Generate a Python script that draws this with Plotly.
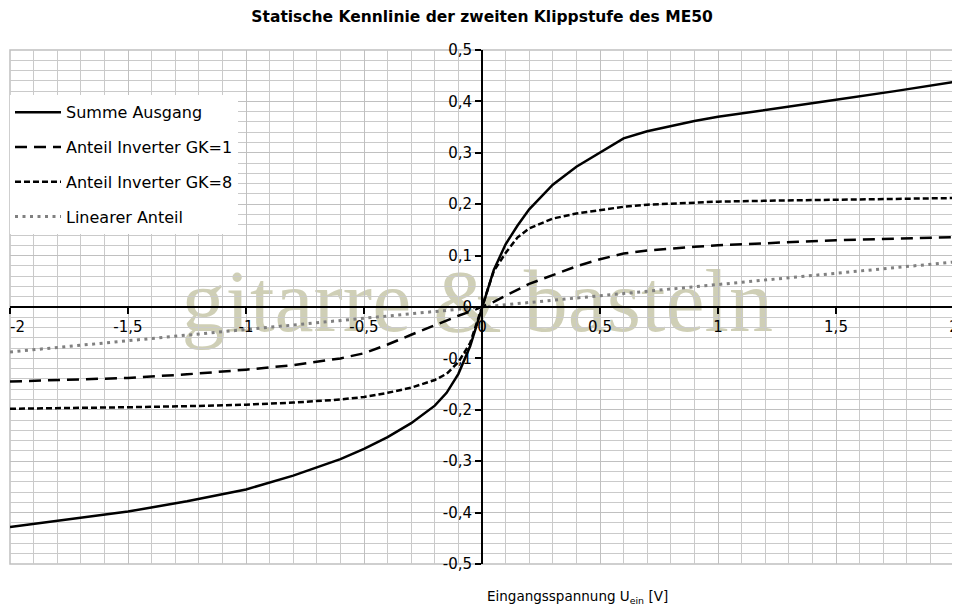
import plotly.graph_objects as go

# ---- data ----
x_vals = [-2, -1.75, -1.5, -1.25, -1, -0.8, -0.6, -0.5, -0.4, -0.3, -0.2, -0.15, -0.1, -0.05,
          0, 0.05, 0.1, 0.15, 0.2, 0.3, 0.4, 0.5, 0.6, 0.7, 0.8, 0.9, 1, 1.25, 1.5, 1.75, 2]

summe = [-0.428, -0.413, -0.398, -0.378, -0.355, -0.328, -0.296, -0.276, -0.253, -0.226, -0.192, -0.167, -0.130, -0.076,
         0.0, 0.072, 0.122, 0.158, 0.190, 0.238, 0.273, 0.300, 0.328, 0.342, 0.352, 0.362, 0.370, 0.386, 0.403, 0.420, 0.438]

gk1 = [-0.145, -0.142, -0.138, -0.131, -0.122, -0.113, -0.100, -0.090, -0.073, -0.054, -0.035, -0.026, -0.017, -0.009,
       0.0, 0.010, 0.022, 0.033, 0.045, 0.062, 0.079, 0.093, 0.104, 0.110, 0.114, 0.117, 0.120, 0.125, 0.130, 0.133, 0.136]

gk8 = [-0.198, -0.197, -0.195, -0.193, -0.190, -0.186, -0.180, -0.175, -0.167, -0.157, -0.142, -0.130, -0.107, -0.070,
       0.0, 0.070, 0.105, 0.135, 0.153, 0.172, 0.182, 0.188, 0.195, 0.199, 0.201, 0.203, 0.205, 0.207, 0.209, 0.211, 0.212]

lin_x = [-2, -1, 0, 1, 2]
lin_y = [-0.0875, -0.044, 0.0, 0.044, 0.0875]

x_ticks = [-2, -1.5, -1, -0.5, 0, 0.5, 1, 1.5, 2]
x_ticktext = ["-2", "-1,5", "-1", "-0,5", "0", "0,5", "1", "1,5", "2"]
y_ticks = [-0.5, -0.4, -0.3, -0.2, -0.1, 0, 0.1, 0.2, 0.3, 0.4, 0.5]
y_ticktext = ["-0,5", "-0,4", "-0,3", "-0,2", "-0,1", "0", "0,1", "0,2", "0,3", "0,4", "0,5"]

title_text = "Statische Kennlinie der zweiten Klippstufe des ME50"
xtitle_text = "Eingangsspannung U<sub>ein</sub> [V]"
watermark = "gitarre &amp; basteln"

FONT = "DejaVu Sans"
GRID = "#cacaca"
GRID_MAJOR = "#c0c0c0"

fig = go.Figure()
fig.add_trace(go.Scatter(x=x_vals, y=summe, mode="lines", name="Summe Ausgang",
                         legendgroup="a", line=dict(color="black", width=2.5)))
fig.add_trace(go.Scatter(x=x_vals, y=gk1, mode="lines", name="Anteil Inverter GK=1",
                         legendgroup="b", line=dict(color="black", width=2.5, dash="12px,7px")))
fig.add_trace(go.Scatter(x=x_vals, y=gk8, mode="lines", name="Anteil Inverter GK=8",
                         legendgroup="c", line=dict(color="black", width=2.5, dash="6px,3px")))
fig.add_trace(go.Scatter(x=lin_x, y=lin_y, mode="lines", name="Linearer Anteil",
                         legendgroup="d", line=dict(color="#808080", width=3, dash="3px,4.5px")))

# the left-most x label is drawn as an annotation (left-anchored) so it stays inside the page
axis_ticktext = [""] + x_ticktext[1:]

fig.update_layout(
    width=952, height=604,
    margin=dict(l=2, r=6, t=42, b=48, autoexpand=False),
    paper_bgcolor="white", plot_bgcolor="white",
    font=dict(family=FONT, size=15, color="black"),
    title=dict(text="<b>" + title_text + "</b>", x=0.498, xanchor="center",
               y=1 - 9 / 604, yanchor="middle", font=dict(family=FONT, size=15.5, color="black")),
    showlegend=True,
    legend=dict(x=0, xanchor="left", y=0.912, yanchor="top", bgcolor="white",
                borderwidth=0, font=dict(family=FONT, size=16, color="black"),
                tracegroupgap=11, traceorder="grouped", itemwidth=46),
    xaxis=dict(range=[-2, 2], tickmode="array", tickvals=x_ticks, ticktext=axis_ticktext,
               anchor="free", position=0.5, side="bottom", automargin=False,
               ticklabeloverflow="allow",
               showline=True, linecolor="black", linewidth=2,
               ticks="outside", ticklen=6, tickwidth=2, tickcolor="black",
               showgrid=True, gridcolor=GRID_MAJOR, gridwidth=1.3,
               zeroline=False,
               minor=dict(tickmode="linear", tick0=0, dtick=0.1, showgrid=True,
                          gridcolor=GRID, gridwidth=1.2),
               tickfont=dict(family=FONT, size=15, color="black")),
    yaxis=dict(range=[-0.5, 0.5], tickmode="array", tickvals=y_ticks, ticktext=y_ticktext,
               anchor="free", position=0.5, side="left", automargin=False,
               ticklabeloverflow="allow",
               showline=True, linecolor="black", linewidth=2,
               ticks="outside", ticklen=6, tickwidth=2, tickcolor="black",
               showgrid=True, gridcolor=GRID_MAJOR, gridwidth=1.3,
               zeroline=False,
               minor=dict(tickmode="linear", tick0=0, dtick=0.02, showgrid=True,
                          gridcolor=GRID, gridwidth=1.2),
               tickfont=dict(family=FONT, size=15, color="black")),
)

fig.add_annotation(text=x_ticktext[0], xref="x", yref="y", x=x_ticks[0], y=0,
                   xanchor="left", yanchor="middle", yshift=-20, xshift=-2,
                   showarrow=False, font=dict(family=FONT, size=15, color="black"))

# border of plot area (gray, like grid)
fig.add_shape(type="rect", xref="paper", yref="paper", x0=0, x1=1, y0=0, y1=1,
              line=dict(color=GRID_MAJOR, width=1.5), layer="below")

# watermark
fig.add_shape(type="rect", xref="paper", yref="paper", x0=0.145, x1=0.845, y0=0.43, y1=0.63,
              line=dict(width=0), fillcolor="rgba(0,0,0,0)", layer="between",
              label=dict(text=watermark, textposition="middle center",
                         font=dict(family="Liberation Serif", size=88,
                                   color="rgba(160,160,110,0.5)")))

# x-axis title
fig.add_annotation(text=xtitle_text, xref="paper", yref="paper", x=0.601, y=-0.064,
                   xanchor="center", yanchor="middle", showarrow=False,
                   font=dict(family=FONT, size=13.5, color="black"))

fig.write_html("out.html")
